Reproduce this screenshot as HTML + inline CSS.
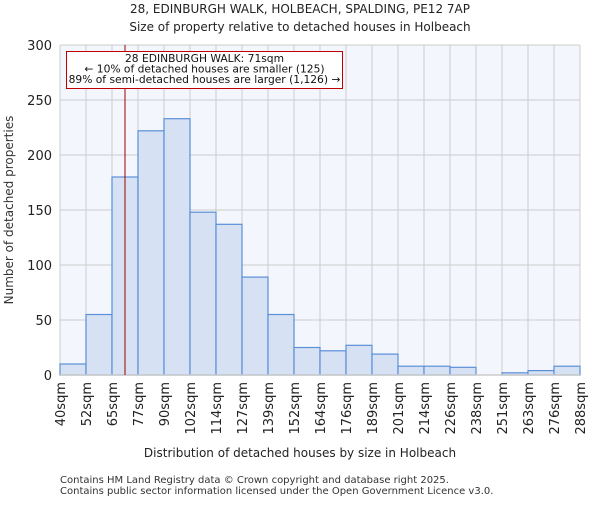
<!DOCTYPE html>
<html><head><meta charset="utf-8"><style>
body{margin:0;background:#fff;font-family:"Liberation Sans","DejaVu Sans",sans-serif}
svg text{font-family:"DejaVu Sans","Liberation Sans",sans-serif}
</style></head><body>
<svg id="c" width="600" height="500">
<text x="300" y="13" text-anchor="middle" font-size="12" fill="#222">28, EDINBURGH WALK, HOLBEACH, SPALDING, PE12 7AP</text>
<text x="300" y="31" text-anchor="middle" font-size="12" fill="#222">Size of property relative to detached houses in Holbeach</text>
<rect x="60" y="45" width="520" height="330" fill="#f3f6fd"/>
<g id="grid"></g><g id="bars"></g><g id="axes"></g>
<text x="300" y="457" text-anchor="middle" font-size="12" fill="#222">Distribution of detached houses by size in Holbeach</text>
<text transform="translate(13,210) rotate(-90)" text-anchor="middle" font-size="12" fill="#333">Number of detached properties</text>
<text x="60" y="483" font-size="10" fill="#333">Contains HM Land Registry data © Crown copyright and database right 2025.</text>
<text x="60" y="494" font-size="10" fill="#333">Contains public sector information licensed under the Open Government Licence v3.0.</text>
</svg>
<script>
const labels=["40sqm","52sqm","65sqm","77sqm","90sqm","102sqm","114sqm","127sqm","139sqm","152sqm","164sqm","176sqm","189sqm","201sqm","214sqm","226sqm","238sqm","251sqm","263sqm","276sqm","288sqm"];
const binEdges=[40,52.4,64.8,77.2,89.6,102,114.4,126.8,139.2,151.6,164,176.4,188.8,201.2,213.6,226,238.4,250.8,263.2,275.6,288];
const counts=[10,55,180,222,233,148,137,89,55,25,22,27,19,8,8,7,0,2,4,8];
const yTicks=[0,50,100,150,200,250,300];
const marker=71;
const NS="http://www.w3.org/2000/svg";
const X0=60,X1=580,Y0=375,Y1=45;
const xs=v=>X0+(v-binEdges[0])/(binEdges[binEdges.length-1]-binEdges[0])*(X1-X0);
const ys=v=>Y0-v/300*(Y0-Y1);
function mk(p,t,a){const e=document.createElementNS(NS,t);for(const k in a)e.setAttribute(k,a[k]);p.appendChild(e);return e;}
const grid=document.getElementById('grid'),bars=document.getElementById('bars'),axes=document.getElementById('axes');
yTicks.forEach(v=>{
 const l=mk(grid,'line',{x1:X0,x2:X1,y1:ys(v),y2:ys(v),stroke:'#ccc'});
 
 
 const t=mk(axes,'text',{x:X0-8,y:ys(v)+5,'text-anchor':'end','font-size':'13',fill:'#222'});
 t.textContent=v;
 
 
});
binEdges.forEach((v,i)=>{
 const l=mk(grid,'line',{x1:xs(v),x2:xs(v),y1:Y1,y2:Y0,stroke:'#ccc'});
 
 
 const t=mk(axes,'text',{transform:`translate(${xs(v)+5},382) rotate(-90)`,'text-anchor':'end','font-size':'13',fill:'#222'});
 t.textContent=labels[i];
 
 
});
counts.forEach((c,i)=>{
 const x=xs(binEdges[i]),w=xs(binEdges[i+1])-x;
 const r=mk(bars,'rect',{x:x,y:ys(c),width:w,height:Y0-ys(c),fill:'#d6e1f3',stroke:'#5b8fd6','stroke-width':'1.2'});
 
 
});
const ax=mk(axes,'line',{x1:X0,x2:X1,y1:Y0,y2:Y0,stroke:'#ccc','stroke-width':'1.5'});


const m=mk(axes,'line',{x1:xs(marker),x2:xs(marker),y1:Y1,y2:Y0,stroke:'#a00000','stroke-width':'1'});


const box=mk(axes,'rect',{x:66.5,y:51.5,width:276,height:37,fill:'#fff',stroke:'#c00000','stroke-width':'1'});


["28 EDINBURGH WALK: 71sqm","← 10% of detached houses are smaller (125)","89% of semi-detached houses are larger (1,126) →"].forEach((s,i)=>{
 const t=mk(axes,'text',{x:204.5,y:62+i*10.5,'text-anchor':'middle','font-size':'10.7',fill:'#111'});
 t.textContent=s;
 
 
});
</script>
</body></html>
